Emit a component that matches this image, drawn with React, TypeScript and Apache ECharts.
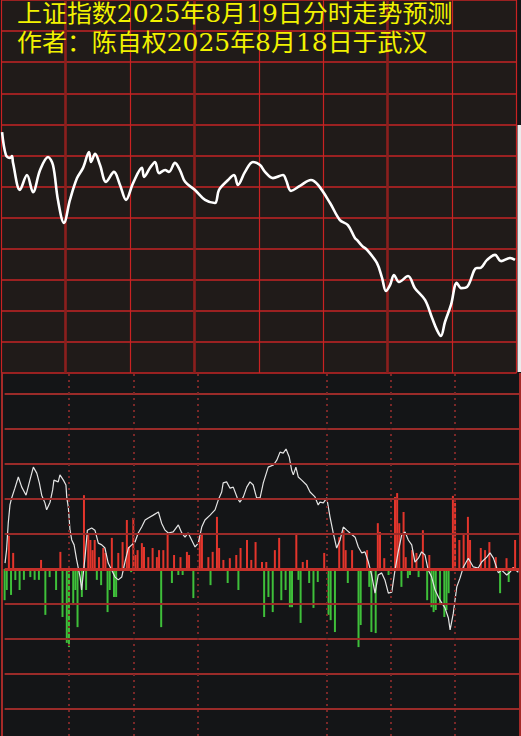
import React, { useEffect, useRef } from "react";
import * as echarts from "echarts";

const titleLine1 = "上证指数2025年8月19日分时走势预测";
const titleLine2 = "作者：陈自权2025年8月18日于武汉";

// top panel: forecast curve [minute from 9:30, level in grid units]
const forecast: [number, number][] = [
  [0.5, 7.75], [2.3, 7.01], [4.2, 6.92], [5.1, 6.98], [5.6, 6.76], [8.8, 5.89],
  [12.1, 6.37], [14.9, 5.82], [18.2, 6.53], [21.9, 6.95], [24.2, 6.69], [26.5, 5.57],
  [29.3, 4.83], [32.1, 5.57], [35.4, 6.27], [38.2, 6.6], [41.0, 7.11], [41.9, 6.79],
  [43.8, 7.05], [46.1, 6.69], [48.9, 6.15], [52.6, 6.47], [55.4, 6.05], [58.2, 5.57],
  [61.5, 6.11], [65.6, 6.6], [66.6, 6.31], [69.4, 6.6], [71.7, 6.79], [73.6, 6.43],
  [76.4, 6.53], [78.2, 6.47], [81.0, 6.76], [83.3, 6.53], [85.7, 6.15], [90.3, 5.89],
  [95.0, 5.57], [99.6, 5.47], [101.5, 5.89], [105.7, 6.21], [108.5, 6.37], [110.3, 6.05],
  [113.6, 6.47], [117.3, 6.79], [120.6, 6.69], [122.9, 6.47], [126.6, 6.27], [131.3, 6.37],
  [132.7, 6.21], [135.0, 5.86], [139.2, 6.02], [144.3, 6.21], [147.6, 6.05], [153.2, 5.47],
  [157.8, 4.92], [161.5, 4.76], [164.8, 4.34], [165.7, 4.28], [168.1, 4.09], [170.4, 3.96],
  [175.0, 3.54], [177.4, 3.06], [179.2, 2.64], [181.1, 2.83], [183.0, 3.15], [185.3, 2.93],
  [189.5, 3.12], [192.7, 2.73], [197.4, 2.35], [200.7, 1.77], [203.0, 1.38], [204.8, 1.19],
  [206.7, 1.64], [209.5, 2.19], [212.2, 2.9], [214.2, 2.73], [217.0, 2.77], [221.5, 3.38],
  [223.0, 3.38], [226.3, 3.64], [230.0, 3.8], [232.8, 3.6], [237.0, 3.7], [239.3, 3.64],
];

// bottom panel: white indicator line
const ratioLine: [number, number][] = [
  [0.2, 0.17], [0.9, 0.54], [1.7, 1.31], [2.5, 1.83], [3.3, 2.03], [4.8, 2.31], [6.4, 2.63],
  [8.0, 2.34], [10.0, 2.11], [11.8, 2.54], [13.4, 2.91], [15.0, 2.74], [16.2, 2.46], [17.3, 2.11],
  [18.8, 1.89], [19.6, 1.69], [21.2, 1.91], [22.4, 2.26], [23.0, 2.54], [25.0, 2.49], [25.8, 2.69],
  [27.4, 2.54], [28.6, 2.4], [29.0, 2.03], [29.7, 1.77], [30.5, 1.11], [31.3, 0.83], [32.4, 0.69],
  [33.6, 0.26], [35.2, -0.23], [35.9, -0.6], [37.5, 0.34], [38.6, 1.11], [40.6, 1.17], [42.1, 1.11],
  [43.7, 0.74], [45.3, 0.69], [46.8, 0.6], [48.3, 0.17], [49.9, -0.03], [51.5, -0.23], [53.0, -0.31],
  [54.6, -0.23], [56.1, 0.2], [57.7, 0.6], [59.3, 0.69], [60.8, 0.77], [62.3, 1.03], [63.9, 1.2],
  [65.5, 1.4], [67.0, 1.46], [69.3, 1.54], [71.7, 1.63], [73.2, 1.31], [74.8, 1.11], [76.3, 1.03],
  [78.6, 1.06], [81.0, 1.26], [82.6, 1.03], [84.1, 0.91], [85.6, 1.03], [87.2, 0.83], [88.8, 0.63],
  [90.3, 0.74], [91.9, 1.2], [93.4, 1.4], [95.8, 1.54], [98.1, 1.69], [99.6, 1.97], [101.2, 2.2],
  [101.9, 2.46], [103.5, 2.49], [105.1, 2.31], [106.6, 2.34], [108.5, 2.03], [109.7, 1.91],
  [111.3, 2.06], [112.9, 2.34], [114.4, 2.49], [115.9, 2.4], [117.5, 2.03], [119.1, 2.03],
  [120.6, 2.46], [122.9, 2.91], [125.3, 2.97], [126.9, 3.11], [128.4, 3.34], [129.9, 3.31],
  [131.2, 3.43], [132.7, 3.2], [133.8, 2.83], [134.6, 2.69], [135.8, 2.91], [136.9, 2.63],
  [138.5, 2.54], [140.8, 2.4], [142.4, 2.2], [144.7, 2.06], [146.2, 1.83], [147.0, 1.91],
  [148.6, 1.89], [150.2, 2.03], [151.7, 1.49], [153.2, 1.03], [154.8, 0.6], [156.4, 0.83],
  [157.9, 1.2], [159.5, 1.11], [161.0, 1.03], [163.4, 0.91], [164.9, 0.63], [166.5, 0.46],
  [168.0, 0.49], [169.6, 0.2], [171.1, -0.17], [172.7, -0.69], [174.2, -0.17], [175.8, -0.11],
  [177.3, -0.31], [178.9, -0.69], [180.5, -0.66], [182.0, -0.03], [183.5, 0.49], [185.1, 0.97],
  [186.7, 1.06], [188.2, 0.83], [189.8, 0.69], [191.3, 0.2], [192.9, 0.31], [194.4, 0.49],
  [196.0, 0.4], [197.5, -0.03], [199.1, -0.23], [200.7, -0.6], [203.0, -0.89], [205.3, -1.11],
  [206.9, -1.4], [207.7, -1.74], [209.2, -1.26], [210.8, -0.51], [212.3, -0.26], [213.9, 0.06],
  [216.2, 0.31], [218.5, 0.06], [220.8, 0.03], [222.4, 0.2], [224.8, 0.34], [226.3, 0.46],
  [227.9, 0.31], [230.2, -0.11], [231.7, -0.03], [234.1, -0.17], [235.6, -0.09], [237.2, 0.03],
  [239.5, -0.09],
];

// bottom panel: red (up) bars
const upBars: [number, number][] = [
  [2, 0.95], [4, 0.46], [17, 0.26], [26, 0.49], [37, 2.11], [39, 0.97], [40, 0.83], [41, 0.54],
  [42, 0.83], [44, 0.34], [46, 0.6], [47, 0.46], [50, 0.89], [53, 0.46], [55, 0.77], [57, 1.4],
  [58, 0.63], [60, 1.46], [61, 0.4], [62, 0.54], [64, 0.74], [65, 0.63], [67, 0.34], [69, 0.6],
  [71, 0.34], [72, 0.54], [74, 0.54], [76, 1.03], [79, 0.4], [82, 0.34], [85, 0.49], [86, 0.4],
  [91, 0.91], [92, 1.03], [95, 0.34], [97, 0.49], [99, 1.49], [100, 0.6], [102, 0.26], [105, 0.31],
  [108, 0.4], [110, 0.6], [113, 0.83], [115, 0.26], [117, 0.77], [120, 0.2], [122, 0.2],
  [126, 0.54], [128, 0.89], [136, 1.03], [139, 0.2], [141, 0.26], [149, 0.46], [156, 0.91],
  [158, 1.11], [159, 0.54], [162, 0.54], [169, 0.54], [174, 1.31], [175, 1.06], [177, 0.31],
  [182, 2.06], [183, 2.17], [184, 1.31], [186, 1.63], [187, 0.34], [190, 0.54], [192, 0.46],
  [195, 1.11], [198, 0.4], [209, 2.09], [210, 1.89], [212, 0.83], [214, 1.03], [216, 1.49],
  [217, 0.83], [222, 0.6], [224, 0.54], [226, 0.77], [229, 0.34], [234, 0.31], [237, 0.06],
  [238, 0.83],
];

// bottom panel: green (down) bars
const downBars: [number, number][] = [
  [0, -0.89], [1, -0.6], [3, -0.74], [5, -0.31], [7, -0.6], [9, -0.31], [12, -0.23], [14, -0.31],
  [16, -0.31], [19, -1.31], [21, -0.23], [24, -0.6], [27, -1.37], [29, -2.11], [30, -2.23],
  [32, -1.03], [33, -0.6], [34, -1.66], [36, -0.8], [38, -0.6], [43, -0.31], [45, -0.46],
  [48, -1.23], [49, -0.6], [51, -0.8], [52, -0.8], [59, -0.09], [73, -1.66], [78, -0.4],
  [81, -0.17], [83, -0.17], [88, -0.83], [96, -0.46], [104, -0.4], [109, -0.6], [121, -1.37],
  [123, -0.8], [125, -1.23], [129, -0.89], [131, -0.6], [133, -1.09], [134, -1.09], [137, -0.31],
  [138, -1.54], [142, -0.4], [144, -1.11], [146, -0.37], [151, -1.31], [152, -1.46], [154, -1.8],
  [160, -0.4], [165, -2.23], [166, -1.6], [170, -0.51], [171, -1.8], [173, -1.83], [179, -0.17],
  [185, -0.51], [188, -0.26], [189, -0.17], [193, -0.23], [197, -0.89], [199, -1.09], [200, -1.23],
  [201, -1.17], [203, -0.97], [205, -1.37], [206, -1.17], [207, -0.69], [231, -0.69], [235, -0.37],
];

const bottomLevels = [-4, -3, -2, -1, 1, 2, 3, 4, 5];
const bottomTimeMarks = [30, 60, 90, 150, 180, 210];
const topDarkTimeMarks = [30, 90, 180];

export default function App() {
  const ref = useRef<HTMLDivElement>(null);
  useEffect(() => {
    const chart = echarts.init(ref.current!, null, { renderer: "svg" });
    const hiddenAxis = {
      axisLine: { show: false },
      axisTick: { show: false },
      axisLabel: { show: false },
    };
    const titleStyle = {
      fill: "#f2f200",
      fontSize: 24,
      fontFamily: "'DejaVu Serif', 'Noto Sans CJK SC', serif",
      textVerticalAlign: "middle",
      verticalAlign: "middle",
    };
    chart.setOption({
      animation: false,
      backgroundColor: "#141517",
      graphic: [
        { type: "rect", left: 517.5, top: 125, shape: { width: 3.5, height: 247 }, style: { fill: "#ececec" }, z: 0 },
        { type: "text", x: 17, y: 14, scaleX: 1.04, style: { ...titleStyle, text: titleLine1 }, z: 20 },
        { type: "text", x: 17, y: 42.5, scaleX: 1.04, style: { ...titleStyle, text: titleLine2 }, z: 20 },
      ],
      grid: [
        { left: 1, top: 0, width: 515.5, height: 373, show: true, backgroundColor: "#201b19", borderWidth: 0 },
        { left: 4.6, top: 373, width: 514.8, height: 363, show: false },
      ],
      xAxis: [
        {
          gridIndex: 0, type: "value", min: 0, max: 240, interval: 30, ...hiddenAxis,
          splitLine: { show: true, lineStyle: { color: "#c92222", width: 1.2 } },
        },
        {
          gridIndex: 1, type: "value", min: 0, max: 240, interval: 30, ...hiddenAxis,
          splitLine: { show: false },
        },
      ],
      yAxis: [
        {
          gridIndex: 0, type: "value", min: 0, max: 12, interval: 1, ...hiddenAxis,
          splitLine: { show: true, lineStyle: { color: "#c42424", width: 1.6 } },
        },
        {
          gridIndex: 1, type: "value", min: -4.77, max: 5.6, offset: 3,
          axisLine: { show: true, onZero: false, lineStyle: { color: "#a52a28", width: 2 } },
          axisTick: { show: false }, axisLabel: { show: false }, splitLine: { show: false },
        },
      ],
      series: [
        {
          type: "line", xAxisIndex: 0, yAxisIndex: 0, data: [[0, 0]], symbol: "none",
          lineStyle: { width: 0 }, z: 1, silent: true,
          markLine: {
            silent: true, symbol: "none", label: { show: false },
            lineStyle: { color: "#8a1f1d", width: 2.6, type: "solid" },
            data: topDarkTimeMarks.map((m) => ({ xAxis: m })),
          },
        },
        {
          type: "line", xAxisIndex: 0, yAxisIndex: 0, data: forecast, smooth: 0.35,
          symbol: "none", lineStyle: { color: "#ffffff", width: 2.6 }, z: 5,
        },
        {
          type: "line", xAxisIndex: 1, yAxisIndex: 1, data: [[0, 0]], symbol: "none",
          lineStyle: { width: 0 }, z: 1, silent: true,
          markLine: {
            silent: true, symbol: "none", label: { show: false },
            lineStyle: { color: "#9a2b29", width: 2, type: "solid" },
            data: [
              ...bottomLevels.map((v) => ({ yAxis: v })),
              ...bottomTimeMarks.map((m) => ({
                xAxis: m,
                lineStyle: { color: "#7a2828", width: 2, type: [2, 4] },
              })),
              { yAxis: 0, lineStyle: { color: "#c4302a", width: 3, type: "solid" } },
              { xAxis: 240, lineStyle: { color: "#a52a28", width: 2, type: "solid" } },
            ],
          },
        },
        {
          type: "bar", xAxisIndex: 1, yAxisIndex: 1, data: downBars, barWidth: 2, barGap: "-100%",
          itemStyle: { color: "#3fbf3a" }, z: 3,
        },
        {
          type: "bar", xAxisIndex: 1, yAxisIndex: 1, data: upBars, barWidth: 2, barGap: "-100%",
          itemStyle: { color: "#e3352c" }, z: 3,
        },
        {
          type: "line", xAxisIndex: 1, yAxisIndex: 1, data: ratioLine, symbol: "none",
          lineStyle: { color: "#e4e4e4", width: 1.2 }, z: 4,
        },
      ],
    });
    return () => chart.dispose();
  }, []);
  return (
    <div
      ref={ref}
      style={{ position: "absolute", left: 0, top: 0, width: 521, height: 736 }}
    />
  );
}
